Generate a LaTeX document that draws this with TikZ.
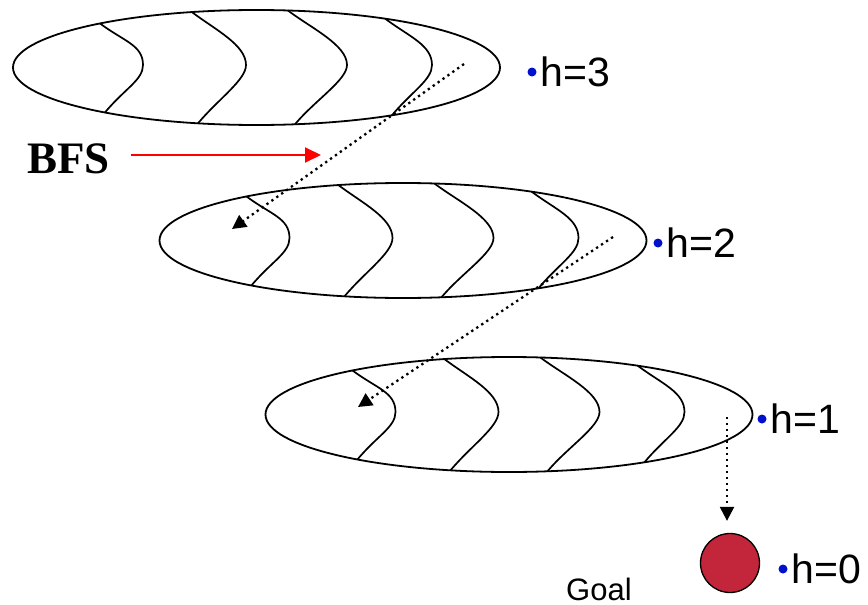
\documentclass[tikz,border=0pt]{standalone}
\usepackage{fontspec}
\setmainfont{Liberation Sans}
\newfontfamily\bfsfont{Liberation Serif}
\usetikzlibrary{arrows.meta,positioning}
\definecolor{GoalRed}{HTML}{C3253A}
\definecolor{DotBlue}{HTML}{0010CC}

\begin{document}
\begin{tikzpicture}[x=1pt,y=-1pt,
  layer/.style={line width=1.8pt},
  ridge/.style={line width=1.7pt},
  walk/.style={line width=2.3pt,dash pattern=on 2.3pt off 3.7pt,
    -{Triangle[length=14pt,width=14pt]}},
  bfsarr/.style={line width=2pt,red,-{Triangle[length=16pt,width=15pt]}},
  hdot/.style={circle,fill=DotBlue,inner sep=0pt,minimum size=9pt},
  hlab/.style={inner sep=0pt,font=\fontsize{41}{45}\selectfont}
]
  \useasboundingbox (0,0) rectangle (868,605);
  % the three levels, each cut into slices
  \foreach \cx/\cy in {256.5/67.5,403/240.5,509/414.5}{
    \begin{scope}[shift={(\cx,\cy)}]
      \draw[layer] (0,0) ellipse (243.5 and 57.5);
      \foreach \t/\b/\o in {230/-113.5/128.5,254.6/-10.5/103.9,277.4/90.5/80.9,301.9/175.5/56.2}
        \draw[ridge] (\t:243.5 and 57.5) .. controls +(24,18) and +(0,-20) .. (\b,-2.5)
          .. controls +(0,15) and +(20,-24) .. (\o:243.5 and 57.5);
    \end{scope}
  }
  % h values
  \node[hdot] (d3) at (532,72) {};
  \node[hlab,right=4pt of d3] (h3) {h=3};
  \node[hdot] (d2) at (658,243) {};
  \node[hlab,right=4pt of d2] (h2) {h=2};
  \node[hdot] (d1) at (762,419) {};
  \node[hlab,right=4pt of d1] (h1) {h=1};
  \node[hdot] (d0) at (783,569) {};
  \node[hlab,right=4pt of d0] (h0) {h=0};
  % goal
  \node[circle,draw,line width=1.3pt,fill=GoalRed,minimum size=59pt,inner sep=0pt] (goal) at (730,563) {};
  \node[font=\fontsize{31}{35}\selectfont,anchor=base west,inner sep=0pt] (goallab) at (566,600) {Goal};
  % BFS
  \node[font=\bfsfont\bfseries\fontsize{45}{48}\selectfont,anchor=base west,inner sep=0pt] (bfs) at (27,173) {BFS};
  \coordinate (bfstip) at (321,155);
  \draw[bfsarr,shorten <=21pt] (bfs.east |- bfstip) -- (bfstip);
  % search path
  \coordinate (s3) at (464,64);
  \coordinate (t2) at (232,229);
  \coordinate (s2) at (613,237);
  \coordinate (t1) at (358,407);
  \coordinate (s1) at (727,417);
  \foreach \a/\b in {s3/t2,s2/t1}
    {\draw[walk] (\a) -- (\b);}
  \draw[walk,shorten >=12pt] (s1) -- (s1 |- goal.north);
\end{tikzpicture}
\end{document}
